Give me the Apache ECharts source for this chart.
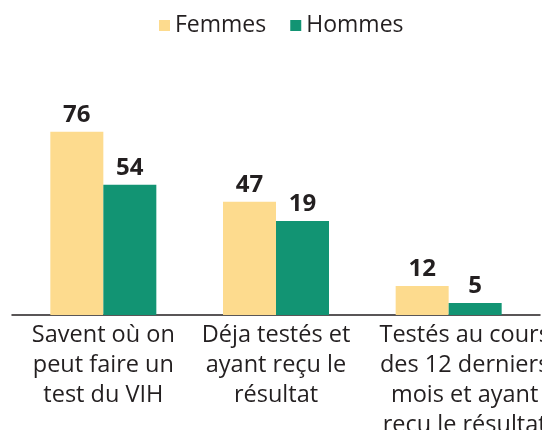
<!DOCTYPE html>
<html>
<head>
<meta charset="utf-8">
<script src="https://cdn.jsdelivr.net/npm/echarts@6/dist/echarts.min.js"></script>
<style>html,body{margin:0;padding:0;background:#fff}#c{width:542px;height:430px}</style>
</head>
<body>
<div id="c"></div>
<script>
var categories = ['Savent où on\npeut faire un\ntest du VIH', 'Déja testés et\nayant reçu le\nrésultat', 'Testés au cours\ndes 12 derniers\nmois et ayant\nreçu le résultat'];
var seriesNames = ['Femmes', 'Hommes'];
var femmesValues = [76, 47, 12];
var hommesValues = [54, 39, 5];      // bar heights as drawn in the picture
var femmesLabels = ['76', '47', '12'];
var hommesLabels = ['54', '19', '5']; // printed labels

var FONT = 'Open Sans';
var TXT = '#231f20';
var chart = echarts.init(document.getElementById('c'), null, {renderer: 'canvas'});

var catData = categories.map(function (c, i) {
  if (i === 2) return {value: c, textStyle: {padding: [0, 0, 0, 32]}};
  return c;
});

function labelCfg(arr) {
  return {
    show: true, position: 'top', distance: 5,
    fontFamily: FONT, fontWeight: 'bold', fontSize: 24, color: TXT,
    formatter: function (p) { return arr[p.dataIndex]; }
  };
}

chart.setOption({
  backgroundColor: '#ffffff',
  animation: false,
  textStyle: {fontFamily: FONT},
  legend: {
    data: seriesNames,
    left: 154, top: 9,
    icon: 'rect', itemWidth: 11, itemHeight: 11, itemGap: 24,
    textStyle: {fontFamily: FONT, fontSize: 23, color: TXT}
  },
  grid: [
    {left: 17, right: 7, top: 74, bottom: 115, containLabel: false, outerBoundsMode: 'none'},
    {left: 12, right: 2, top: 74, bottom: 115, containLabel: false, outerBoundsMode: 'none'}
  ],
  xAxis: [
    {
      type: 'category', gridIndex: 0, data: catData,
      axisLine: {show: false}, axisTick: {show: false},
      axisLabel: {
        interval: 0, margin: 5, fontFamily: FONT, fontSize: 23.5, lineHeight: 30, color: TXT
      }
    },
    {
      type: 'category', gridIndex: 1, data: [''],
      axisLine: {show: true, lineStyle: {color: TXT, width: 1.5}},
      axisTick: {show: false}, axisLabel: {show: false}
    }
  ],
  yAxis: [
    {type: 'value', gridIndex: 0, min: 0, max: 100, show: false, splitLine: {show: false}},
    {type: 'value', gridIndex: 1, min: 0, max: 100, show: false, splitLine: {show: false}}
  ],
  series: [
    {
      name: seriesNames[0], type: 'bar', data: femmesValues,
      barWidth: 53, barGap: '0%',
      itemStyle: {color: '#fddb8e'},
      label: labelCfg(femmesLabels)
    },
    {
      name: seriesNames[1], type: 'bar', data: hommesValues,
      barWidth: 53, barGap: '0%',
      itemStyle: {color: '#129473'},
      label: labelCfg(hommesLabels)
    }
  ]
});
</script>
</body>
</html>
